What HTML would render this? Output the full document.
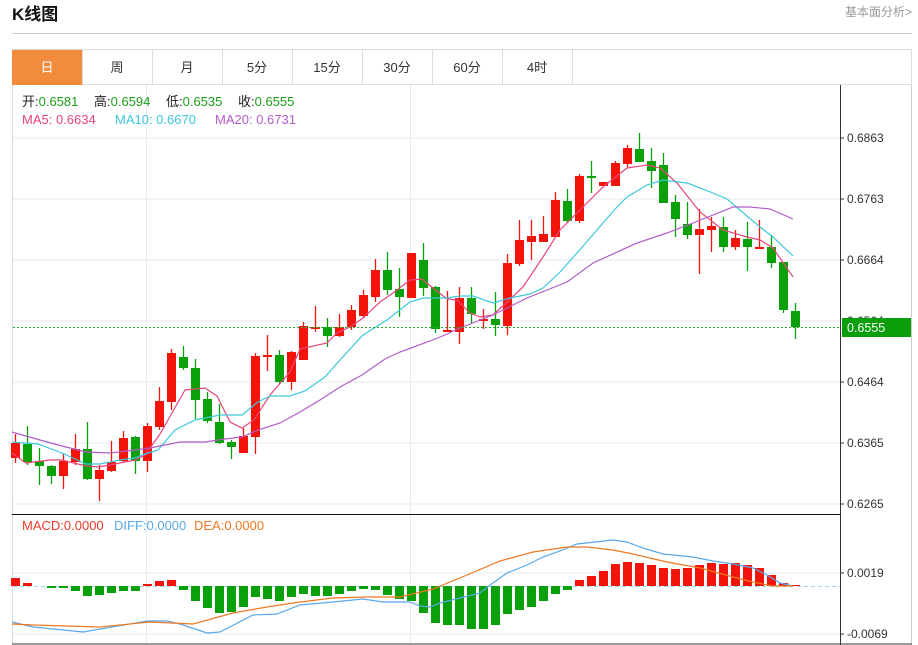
<!DOCTYPE html>
<html><head><meta charset="utf-8"><style>
body{margin:0;background:#fff;width:918px;height:645px;overflow:hidden;font-family:"Liberation Sans","Noto Sans CJK SC",sans-serif;}
svg{position:absolute;left:0;top:0}
</style></head><body>
<svg width="918" height="645" xmlns="http://www.w3.org/2000/svg" font-family="Liberation Sans, Noto Sans CJK SC, sans-serif">
<text x="12" y="20" font-size="17" font-weight="bold" fill="#111">K线图</text>
<text x="912" y="16" font-size="12" fill="#999" text-anchor="end">基本面分析&gt;</text>
<line x1="12" y1="33.5" x2="912" y2="33.5" stroke="#ccc"/>
<rect x="12.5" y="49.5" width="899" height="35" fill="none" stroke="#ddd"/>
<rect x="12" y="50" width="70" height="35" fill="#f28c3c"/>
<g stroke="#ddd"><line x1="82.5" y1="50" x2="82.5" y2="85"/><line x1="152.5" y1="50" x2="152.5" y2="85"/><line x1="222.5" y1="50" x2="222.5" y2="85"/><line x1="292.5" y1="50" x2="292.5" y2="85"/><line x1="362.5" y1="50" x2="362.5" y2="85"/><line x1="432.5" y1="50" x2="432.5" y2="85"/><line x1="502.5" y1="50" x2="502.5" y2="85"/><line x1="572.5" y1="50" x2="572.5" y2="85"/></g>
<g font-size="13" text-anchor="middle" fill="#333"><text x="47" y="72" fill="#fff">日</text><text x="117" y="72">周</text><text x="187" y="72">月</text><text x="257" y="72">5分</text><text x="327" y="72">15分</text><text x="397" y="72">30分</text><text x="467" y="72">60分</text><text x="537" y="72">4时</text></g>
<line x1="12.5" y1="85" x2="12.5" y2="644" stroke="#ddd"/>
<line x1="911.5" y1="85" x2="911.5" y2="644" stroke="#ccc"/>
<g stroke="#e3ebf2"><line x1="13" y1="138" x2="840" y2="138"/><line x1="13" y1="199" x2="840" y2="199"/><line x1="13" y1="260" x2="840" y2="260"/><line x1="13" y1="321" x2="840" y2="321"/><line x1="13" y1="382" x2="840" y2="382"/><line x1="13" y1="443" x2="840" y2="443"/><line x1="13" y1="504" x2="840" y2="504"/><line x1="13" y1="573" x2="840" y2="573"/><line x1="13" y1="634" x2="840" y2="634"/><line x1="146.5" y1="85" x2="146.5" y2="644"/><line x1="410.5" y1="85" x2="410.5" y2="644"/></g>
<g font-size="13" fill="#222">
<text x="22" y="106">开:<tspan fill="#1a9e1a">0.6581</tspan></text>
<text x="94" y="106">高:<tspan fill="#1a9e1a">0.6594</tspan></text>
<text x="166" y="106">低:<tspan fill="#1a9e1a">0.6535</tspan></text>
<text x="238" y="106">收:<tspan fill="#1a9e1a">0.6555</tspan></text>
<text x="22" y="124" fill="#e8457a">MA5: 0.6634</text>
<text x="115" y="124" fill="#3cc8dc">MA10: 0.6670</text>
<text x="215" y="124" fill="#b25dc8">MA20: 0.6731</text>
<text x="22" y="530" fill="#f03a2a">MACD:0.0000</text>
<text x="114" y="530" fill="#5aa8e8">DIFF:0.0000</text>
<text x="194" y="530" fill="#f07820">DEA:0.0000</text>
</g>
<g id="c"></g>
<line x1="13" y1="586.5" x2="840" y2="586.5" stroke="#9fd3ee" stroke-dasharray="4,3"/>
<g id="m"></g>
<polyline fill="none" stroke="#e8457a" stroke-width="1.2" points="12,453 26,463 50,460 62,460 86,466 98,467 110,465 135,460 145,455 160,434 172,413 185,390 205,388 217,396 230,422 242,428 254,420 270,395 290,372 300,349 327,343 337,333 350,327 363,318 380,302 393,293 410,280 422,279 433,288 447,299 457,300 470,313 480,317 493,315 507,302 523,287 543,257 560,230 580,210 603,187 627,168 647,165 660,168 677,183 700,212 723,230 747,237 760,240 773,248 793,277"/>
<polyline fill="none" stroke="#3cc8dc" stroke-width="1.2" points="12,442 38,444 62,453 86,464 100,464 120,460 135,458 145,454 158,450 175,430 195,420 220,415 242,415 258,402 270,396 290,396 305,391 325,377 340,360 363,335 387,320 410,302 423,298 447,298 460,296 473,296 493,303 510,298 530,294 543,288 560,272 577,253 603,223 617,207 627,197 647,185 663,180 687,183 713,193 727,199 760,227 773,237 793,256"/>
<polyline fill="none" stroke="#b25dc8" stroke-width="1.2" points="12,432 40,440 62,446 86,452 110,453 135,450 150,448 180,442 205,442 225,439 242,437 258,430 280,423 300,412 320,400 340,387 362,375 385,359 400,352 430,341 445,335 460,328 493,315 527,298 567,282 593,263 637,243 667,233 693,223 733,207 750,207 770,209 793,219"/>
<polyline fill="none" stroke="#5aa8e8" stroke-width="1.2" points="12,622 33,627 83,632 147,621 167,621 180,624 207,633 220,632 253,615 277,614 300,605 333,602 363,599 383,602 410,602 420,606 430,607 440,603 460,598 480,593 490,585 507,573 527,565 543,557 560,551 577,544 613,540 627,542 643,548 663,554 693,557 713,561 733,564 753,568 767,575 780,583 793,586"/>
<polyline fill="none" stroke="#f07820" stroke-width="1.2" points="12,624 33,625 100,627 150,622 193,624 233,613 267,607 300,602 333,598 367,597 400,597 433,589 467,575 500,561 533,552 567,547 587,547 613,550 633,554 667,562 700,568 733,577 753,582 773,586 793,586"/>
<line x1="13" y1="327.5" x2="840" y2="327.5" stroke="#2aaa2a" stroke-dasharray="2,2"/>
<line x1="12" y1="514.5" x2="840" y2="514.5" stroke="#111"/>
<line x1="12" y1="644" x2="912" y2="644" stroke="#333"/>
<line x1="840.5" y1="85" x2="840.5" y2="645" stroke="#333"/>
<g font-size="12" fill="#333"><text x="847" y="142">0.6863</text><text x="847" y="203">0.6763</text><text x="847" y="264">0.6664</text><text x="847" y="325">0.6564</text><text x="847" y="386">0.6464</text><text x="847" y="447">0.6365</text><text x="847" y="508">0.6265</text><text x="847" y="577">0.0019</text><text x="847" y="638">-0.0069</text></g>
<g stroke="#333"><line x1="840" y1="138" x2="844" y2="138"/><line x1="840" y1="199" x2="844" y2="199"/><line x1="840" y1="260" x2="844" y2="260"/><line x1="840" y1="382" x2="844" y2="382"/><line x1="840" y1="443" x2="844" y2="443"/><line x1="840" y1="504" x2="844" y2="504"/><line x1="840" y1="573" x2="844" y2="573"/><line x1="840" y1="634" x2="844" y2="634"/></g>
<rect x="842" y="318" width="69" height="19" fill="#0a9e0a"/>
<text x="847" y="332" font-size="12.5" fill="#fff">0.6555</text>
</svg>
<script>
var C=[[1,'r',443,458,434,463],[2,'g',444,462,426,465],[3,'g',461,466,448,485],[4,'g',466,476,465,484],[5,'r',461,476,453,489],[6,'r',449,462,434,465],[7,'g',449,479,422,480],[8,'r',470,479,465,501],[9,'r',462,471,441,472],[10,'r',438,461,431,463],[11,'g',437,461,436,474],[12,'r',426,461,423,472],[13,'r',401,427,387,430],[14,'r',353,402,349,410],[15,'g',357,368,346,370],[16,'g',368,400,359,419],[17,'g',399,421,392,423],[18,'g',422,443,404,444],[19,'g',442,447,440,459],[20,'r',436,453,428,453],[21,'r',356,437,353,454],[22,'r',355,357,335,371],[23,'g',355,382,350,384],[24,'r',352,382,351,390],[25,'r',326,360,322,360],[26,'r',327,329,306,332],[27,'g',327,336,318,347],[28,'r',327,336,314,337],[29,'r',310,327,305,330],[30,'r',295,316,290,318],[31,'r',270,297,259,302],[32,'g',270,290,252,295],[33,'g',289,297,268,317],[34,'r',253,298,253,298],[35,'g',260,288,243,296],[36,'g',287,329,286,333],[37,'r',330,332,291,332],[38,'r',298,332,287,344],[39,'g',298,314,287,323],[40,'r',319,321,309,329],[41,'g',319,325,292,336],[42,'r',263,326,254,335],[43,'r',240,264,220,266],[44,'r',236,242,220,260],[45,'r',234,242,216,242],[46,'r',200,237,192,237],[47,'g',201,221,189,223],[48,'r',176,221,174,223],[49,'g',176,178,161,193],[50,'r',182,186,182,186],[51,'r',163,186,161,186],[52,'r',148,164,145,167],[53,'g',149,162,133,162],[54,'g',161,171,148,188],[55,'g',165,203,153,203],[56,'g',202,219,195,237],[57,'g',224,235,202,239],[58,'r',229,235,209,274],[59,'r',226,230,217,252],[60,'g',227,247,217,252],[61,'r',238,247,230,250],[62,'g',239,247,222,271],[63,'r',247,249,220,249],[64,'g',247,263,235,268],[65,'g',262,310,262,313],[66,'g',311,327,303,339]];
var M=[578,583,586,588,588,591,596,595,593,591,591,584,581,580,590,601,608,613,612,607,597,599,601,597,594,596,596,594,591,589,590,595,599,601,613,623,625,625,629,629,625,614,610,607,601,594,590,580,576,571,564,562,563,565,568,569,568,565,563,564,563,565,568,575,583,585];
var s='',m='';
C.forEach(function(c){var x=15.5+12*(c[0]-1),col=c[1]=='r'?'#f2140a':'#0aa00a';
s+='<line x1="'+x+'" y1="'+c[4]+'" x2="'+x+'" y2="'+c[5]+'" stroke="'+col+'" stroke-width="1.3"/>';
s+='<rect x="'+(x-4.5)+'" y="'+c[2]+'" width="9" height="'+Math.max(1.5,c[3]-c[2])+'" fill="'+col+'"/>';});
M.forEach(function(v,i){var x=15.5+12*i-4.5;if(v==586)return;var t=Math.min(v,586),h=Math.abs(v-586);
m+='<rect x="'+x+'" y="'+t+'" width="9" height="'+h+'" fill="'+(v<586?'#f2140a':'#0aa00a')+'"/>';});
document.getElementById('c').innerHTML=s;document.getElementById('m').innerHTML=m;
</script>
</body></html>
